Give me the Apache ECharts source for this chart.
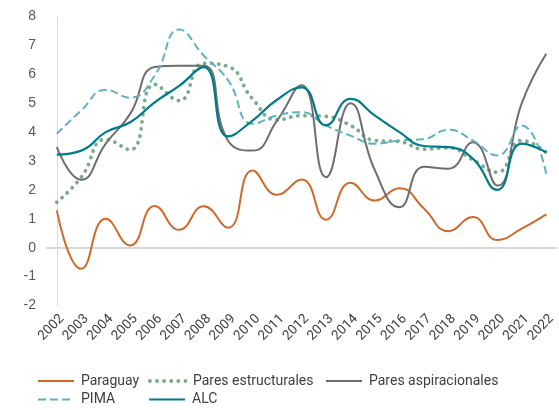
<!DOCTYPE html>
<html>
<head>
<meta charset="utf-8">
<script src="https://cdn.jsdelivr.net/npm/echarts@6/dist/echarts.min.js"></script>
<style>
  html, body { margin: 0; padding: 0; background: #fff; }
  #chart { width: 559px; height: 410px; }
</style>
</head>
<body>
<div id="chart"></div>
<script>
// years on the x axis
const categories = ['2002', '2003', '2004', '2005', '2006', '2007', '2008', '2009', '2010', '2011',
  '2012', '2013', '2014', '2015', '2016', '2017', '2018', '2019', '2020', '2021', '2022'];

const paraguay = [1.29, -0.73, 1.0, 0.08, 1.44, 0.62, 1.43, 0.69, 2.67, 1.83, 2.36,
  0.97, 2.25, 1.63, 2.06, 1.36, 0.57, 1.06, 0.27, 0.66, 1.15];
const paresEstructurales = [1.57, 2.44, 3.75, 3.39, 5.65, 5.09, 6.38, 6.27, 5.15, 4.42, 4.57,
  4.54, 4.23, 3.71, 3.67, 3.41, 3.46, 3.04, 2.61, 3.71, 3.3];
const paresAspiracionales = [3.48, 2.35, 3.6, 4.63, 6.25, 6.3, 6.3, 3.7, 3.36, 4.4, 5.62,
  2.44, 5.0, 2.67, 1.4, 2.8, 2.73, 3.65, 2.15, 5.0, 6.71];
const pima = [3.94, 4.75, 5.46, 5.19, 5.95, 7.55, 6.65, 5.79, 4.29, 4.57, 4.69,
  4.23, 3.88, 3.6, 3.71, 3.76, 4.08, 3.71, 3.19, 4.23, 2.56];
const alc = [3.22, 3.36, 4.0, 4.34, 5.03, 5.6, 6.25, 3.85, 4.4, 5.12, 5.55,
  4.23, 5.15, 4.57, 4.0, 3.52, 3.48, 3.08, 2.0, 3.6, 3.3];

const yTicks = [-2, -1, 0, 1, 2, 3, 4, 5, 6, 7, 8];

const toPoints = arr => arr.map((v, i) => [i, v]);
const labelFont = 'Roboto, "Noto Sans", sans-serif';

const chart = echarts.init(document.getElementById('chart'));

function lineSeries(name, data, color, extra) {
  return Object.assign({
    name: name,
    type: 'line',
    data: toPoints(data),
    smooth: 0.5,
    symbol: 'none',
    lineStyle: { color: color, width: 2 },
    itemStyle: { color: color },
    z: 3
  }, extra || {});
}

// one legend per entry so they sit in Excel-like columns
function legendItem(name, left, top) {
  return {
    data: [name],
    left: left,
    top: top,
    padding: 0,
    itemWidth: 36,
    itemHeight: 14,
    itemStyle: { opacity: 0 },
    lineStyle: { width: 'inherit' },
    textStyle: { fontSize: 14, color: '#404040', fontFamily: labelFont, padding: [0, 0, 0, 2] }
  };
}

chart.setOption({
  animation: false,
  grid: { left: 46, right: 0, top: 16.5, bottom: 104.5 },
  xAxis: {
    type: 'value',
    min: -0.44,
    max: 20.46,
    axisLine: { show: false },
    axisTick: { show: false },
    splitLine: { show: false },
    axisLabel: {
      customValues: categories.map((c, i) => i),
      formatter: v => categories[v],
      rotate: 45,
      margin: 6,
      verticalAlign: 'top',
      lineHeight: 15,
      fontSize: 13.5,
      color: '#404040',
      fontFamily: labelFont
    }
  },
  yAxis: {
    type: 'value',
    min: yTicks[0],
    max: yTicks[yTicks.length - 1],
    interval: 1,
    axisLine: { show: true, lineStyle: { color: '#d9d9d9', width: 1 } },
    axisTick: { show: false },
    splitLine: { show: false },
    axisLabel: {
      margin: 10,
      fontSize: 14,
      color: '#595959',
      fontFamily: '"Liberation Sans", Arial, sans-serif'
    }
  },
  legend: [
    legendItem('Paraguay', 37, 374),
    legendItem('Pares estructurales', 148, 374),
    legendItem('Pares aspiracionales', 325, 374),
    legendItem('PIMA', 37, 392.5),
    legendItem('ALC', 148, 392.5)
  ],
  series: [
    lineSeries('Paraguay', paraguay, '#cf6a2b', {
      markLine: {
        silent: true,
        symbol: 'none',
        label: { show: false },
        lineStyle: { color: '#d9d9d9', width: 2, type: 'solid' },
        data: [{ yAxis: 0 }],
        z: 1
      }
    }),
    lineSeries('Pares estructurales', paresEstructurales, '#7aab8c', {
      lineStyle: { color: '#7aab8c', width: 3.8, type: [0.1, 7], cap: 'round' }
    }),
    lineSeries('Pares aspiracionales', paresAspiracionales, '#6e6e6e'),
    lineSeries('PIMA', pima, '#5fb2c2', {
      lineStyle: { color: '#5fb2c2', width: 2, type: [8, 4] }
    }),
    lineSeries('ALC', alc, '#007b8a', { lineStyle: { color: '#007b8a', width: 2.2 } })
  ]
});
</script>
</body>
</html>
